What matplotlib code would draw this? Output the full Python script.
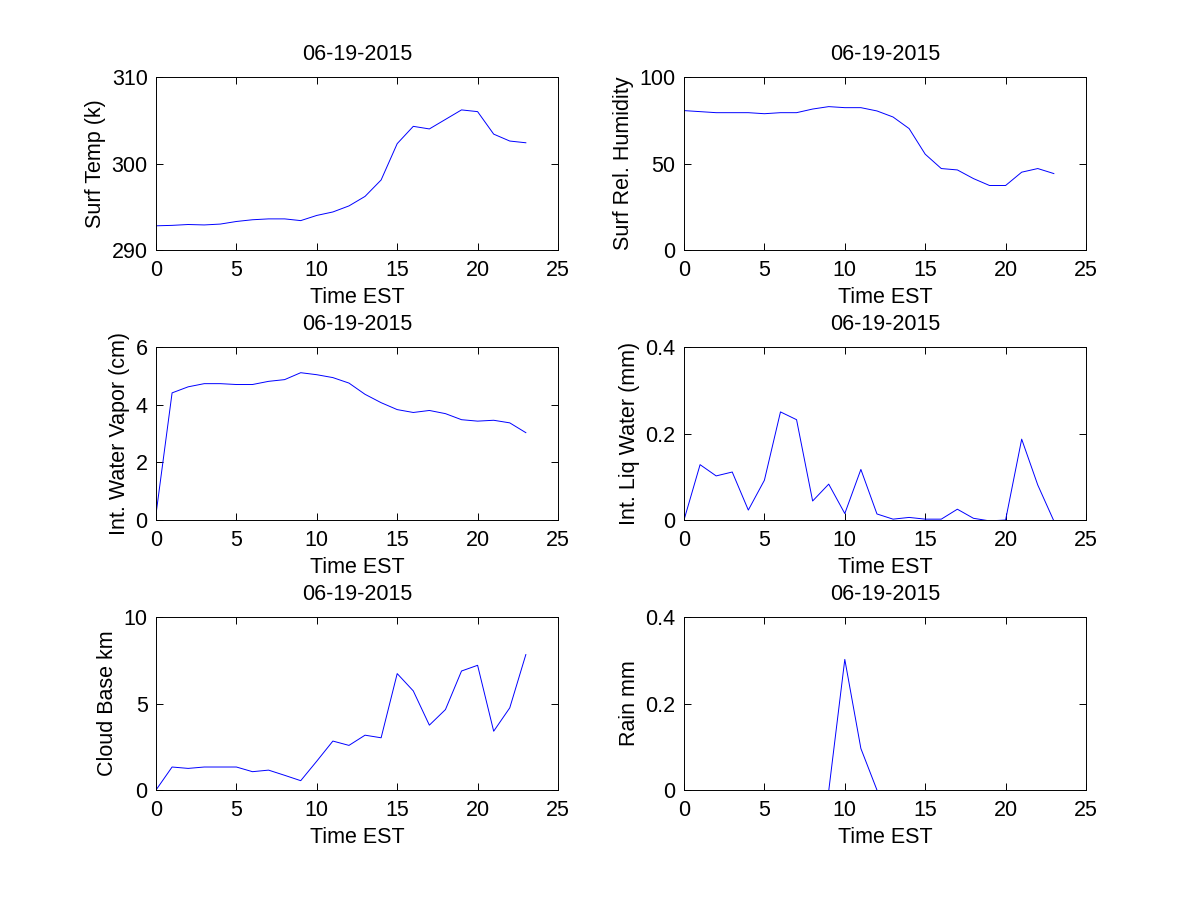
import numpy as np
import matplotlib.pyplot as plt

plt.rcParams['font.family'] = ['Liberation Sans', 'DejaVu Sans']

# hourly data, 06-19-2015
hours = np.arange(24)
surf_temp = [292.8, 292.85, 292.95, 292.9, 293.0, 293.3, 293.5, 293.6, 293.6, 293.4,
             294.0, 294.4, 295.1, 296.2, 298.1, 302.3, 304.3, 304.0, 305.1, 306.2,
             306.0, 303.4, 302.6, 302.4]
surf_rh = [80.6, 80.0, 79.4, 79.4, 79.4, 78.8, 79.4, 79.4, 81.5, 82.9,
           82.3, 82.3, 80.4, 76.9, 70.2, 55.4, 47.1, 46.3, 41.3, 37.3,
           37.3, 45.0, 47.1, 44.2]
water_vapor = [0.2, 4.41, 4.62, 4.73, 4.73, 4.70, 4.70, 4.81, 4.87, 5.11,
               5.04, 4.94, 4.75, 4.36, 4.07, 3.83, 3.73, 3.80, 3.69, 3.48,
               3.43, 3.46, 3.37, 3.03]
liq_water = [0.0, 0.128, 0.102, 0.111, 0.023, 0.092, 0.250, 0.232, 0.044, 0.083,
             0.015, 0.117, 0.014, 0.002, 0.006, 0.002, 0.002, 0.025, 0.004, -0.002,
             0.0, 0.187, 0.081, -0.002]
cloud_base = [0.0, 1.33, 1.25, 1.33, 1.33, 1.33, 1.06, 1.15, 0.85, 0.54,
              1.67, 2.83, 2.58, 3.17, 3.02, 6.73, 5.73, 3.75, 4.65, 6.88,
              7.21, 3.40, 4.75, 7.83]
# no rain recorded outside the shower (hidden under the axis in the original)
nan = np.nan
rain = [nan, nan, nan, nan, nan, nan, nan, nan, nan, -0.002,
        0.302, 0.096, 0, nan, nan, nan, nan, nan, nan, nan,
        nan, nan, nan, nan]

date_str = '06-19-2015'
panels = [
    (surf_temp, 'Surf Temp (k)', (290, 310), [290, 300, 310]),
    (surf_rh, 'Surf Rel. Humidity', (0, 100), [0, 50, 100]),
    (water_vapor, 'Int. Water Vapor (cm)', (0, 6), [0, 2, 4, 6]),
    (liq_water, 'Int. Liq Water (mm)', (0, 0.4), [0, 0.2, 0.4]),
    (cloud_base, 'Cloud Base km', (0, 10), [0, 5, 10]),
    (rain, 'Rain mm', (0, 0.4), [0, 0.2, 0.4]),
]

fs = 15.5
fig = plt.figure(figsize=(12, 9), dpi=100)
lefts = [0.13, 0.57]
bottoms = [0.7222, 0.4222, 0.1222]
w, h = 0.335, 0.1922

for i, (vals, ylab, ylim, yticks) in enumerate(panels):
    ax = fig.add_axes([lefts[i % 2], bottoms[i // 2], w, h])
    ax.plot(hours, vals, color='blue', lw=0.7)
    ax.set_xlim(0, 25)
    ax.set_ylim(*ylim)
    ax.set_xticks([0, 5, 10, 15, 20, 25])
    ax.set_yticks(yticks)
    ax.set_yticklabels(['%g' % t for t in yticks])
    ax.tick_params(direction='in', top=True, right=True, length=5, width=0.7,
                   labelsize=fs, pad=6)
    ax.tick_params(axis='x', pad=7.5)
    for sp in ax.spines.values():
        sp.set_linewidth(0.7)
    ax.set_xlabel('Time EST', fontsize=fs, labelpad=4)
    ax.set_ylabel(ylab, fontsize=fs, labelpad=4)
    ax.set_title(date_str, fontsize=fs, pad=12)

fig.savefig('out.png', dpi=100)
